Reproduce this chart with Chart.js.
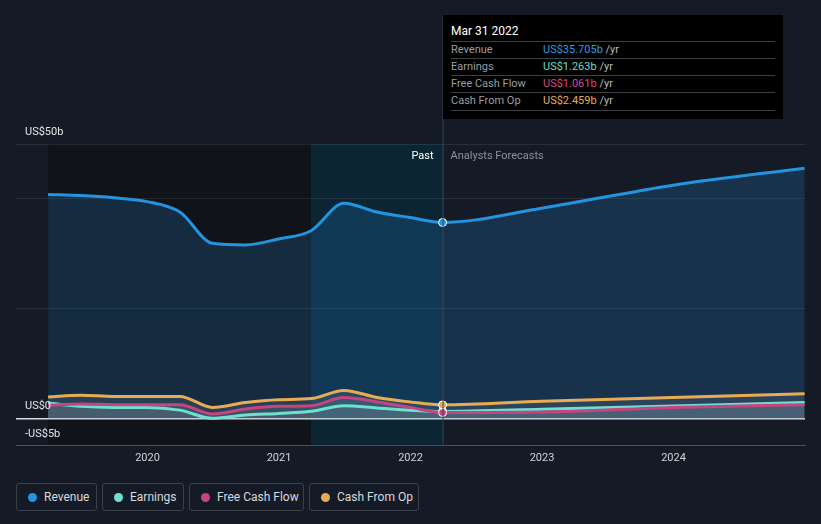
<!DOCTYPE html>
<html lang="en">
<head>
    <meta charset="UTF-8">
    <title>Revenue and Earnings</title>
    <style>
        body { margin: 0; background: #151b26; font-family: Roboto, "Noto Sans", sans-serif; }
        #wrap { position: relative; width: 821px; height: 524px; overflow: hidden; }
        #chartBox { position: absolute; left: 0; top: 0; width: 821px; height: 476px; }
        #tip { position: absolute; left: 443px; top: 15px; width: 340px; height: 104px; background: #000; }
        #tip .title { position: absolute; left: 8px; top: 9px; color: #fff; font-size: 12px; }
        #tip .row { position: absolute; left: 8px; width: 324px; height: 17px; border-top: 1px solid #3c3f44; font-size: 11px; line-height: 16px; color: #9a9da3; }
        #tip .row span.v { position: absolute; left: 92px; }
        #tip .row span.u { color: #b9bcc1; }
        #tip .last { position: absolute; left: 8px; top: 95px; width: 324px; border-top: 1px solid #3c3f44; }
        #legend { position: absolute; left: 16px; top: 483px; display: flex; gap: 5px; }
        #legend div { box-sizing: border-box; height: 28px; border: 1px solid #3b404a; border-radius: 3px; color: #d7d9dd; font-size: 12px; line-height: 26px; padding-left: 27px; position: relative; }
        #legend i { position: absolute; left: 11px; top: 9px; width: 9px; height: 9px; border-radius: 50%; }
    </style>
</head>
<body>
<div id="wrap">
    <div id="chartBox"><canvas id="myChart"></canvas></div>

    <div id="tip">
        <div class="title">Mar 31 2022</div>
        <div class="row" style="top:26px">Revenue<span class="v"><span style="color:#2d9be6">US$35.705b</span> <span class="u">/yr</span></span></div>
        <div class="row" style="top:43px">Earnings<span class="v"><span style="color:#67dcc8">US$1.263b</span> <span class="u">/yr</span></span></div>
        <div class="row" style="top:60px">Free Cash Flow<span class="v"><span style="color:#d14b8b">US$1.061b</span> <span class="u">/yr</span></span></div>
        <div class="row" style="top:77px">Cash From Op<span class="v"><span style="color:#e8ac57">US$2.459b</span> <span class="u">/yr</span></span></div>
        <div class="last"></div>
    </div>

    <div id="legend">
        <div style="width:81px"><i style="background:#2394df"></i>Revenue</div>
        <div style="width:82px"><i style="background:#6de0d0"></i>Earnings</div>
        <div style="width:115px"><i style="background:#c4457f"></i>Free Cash Flow</div>
        <div style="width:110px"><i style="background:#e6a85a"></i>Cash From Op</div>
    </div>
</div>

<script src="https://cdn.jsdelivr.net/npm/chart.js"></script>
<script>
    // quarterly trailing values (US$ b), then analyst forecasts
    let pastDates = ['2019-03-31', '2019-06-30', '2019-09-30', '2019-12-31', '2020-03-31', '2020-06-30', '2020-09-30',
                     '2020-12-31', '2021-03-31', '2021-06-30', '2021-09-30', '2021-12-31', '2022-03-31'];
    let forecastDates = ['2022-12-31', '2023-12-31', '2024-12-31'];

    let revenuePast = [40.8, 40.6, 40.2, 39.5, 37.6, 31.9, 31.6, 32.7, 34.2, 39.2, 37.6, 36.6, 35.705];
    let earningsPast = [2.8, 2.2, 2.0, 2.0, 1.5, 0.0, 0.6, 0.9, 1.3, 2.3, 1.9, 1.5, 1.263];
    let fcfPast = [2.4, 2.6, 2.5, 2.5, 2.5, 0.8, 1.7, 2.2, 2.3, 3.8, 3.0, 2.0, 1.061];
    let cfoPast = [3.9, 4.2, 4.0, 4.0, 4.0, 2.0, 2.9, 3.4, 3.6, 5.1, 3.8, 3.0, 2.459];

    let revenueForecast = [38.3, 42.5, 45.6];
    let earningsForecast = [1.65, 2.25, 2.9];
    let fcfForecast = [1.15, 2.0, 2.5];
    let cfoForecast = [3.1, 3.8, 4.5];

    let yTicks = [-5, 0, 20, 40, 50];
    let xTicks = [2020, 2021, 2022, 2023, 2024];

    function toYear(s) {
        let d = new Date(s + 'T00:00:00Z');
        let start = Date.UTC(d.getUTCFullYear(), 0, 1);
        let end = Date.UTC(d.getUTCFullYear() + 1, 0, 1);
        return d.getUTCFullYear() + (d - start) / (end - start);
    }

    let allDates = pastDates.concat(forecastDates).map(toYear);
    let nowX = toYear(pastDates[pastDates.length - 1]);
    let bandX = toYear(pastDates[pastDates.length - 5]);

    function points(past, fut) {
        let vals = past.concat(fut);
        return vals.map((v, i) => ({ x: allDates[i], y: v }));
    }
    function marker(ctx) {
        return ctx.raw && ctx.raw.x === nowX ? 4 : 0;
    }

    function series(label, color, data, fill, order) {
        return {
            label: label,
            data: data,
            order: order,
            borderColor: color,
            backgroundColor: fill,
            fill: 'origin',
            borderWidth: 3,
            cubicInterpolationMode: 'monotone',
            pointRadius: marker,
            pointHoverRadius: marker,
            pointBackgroundColor: color,
            pointBorderColor: '#fff',
            pointBorderWidth: 1
        };
    }

    const backdrop = {
        id: 'backdrop',
        beforeDraw(chart) {
            const { ctx, chartArea: a, scales: { x } } = chart;
            ctx.save();
            ctx.fillStyle = '#151b26';
            ctx.fillRect(0, 0, chart.width, chart.height);
            let x0 = x.getPixelForValue(allDates[0]);
            let x1 = x.getPixelForValue(bandX);
            let x2 = x.getPixelForValue(nowX);
            ctx.fillStyle = '#101318';
            ctx.fillRect(x0, a.top, x1 - x0, a.bottom - a.top);
            ctx.fillStyle = '#0c2532';
            ctx.fillRect(x1, a.top, x2 - x1, a.bottom - a.top);
            ctx.restore();
        },
        afterDraw(chart) {
            const { ctx, chartArea: a, scales: { x, y } } = chart;
            ctx.save();
            let x2 = x.getPixelForValue(nowX);
            ctx.strokeStyle = '#34495a';
            ctx.lineWidth = 1;
            ctx.beginPath();
            ctx.moveTo(x2 + 0.5, 15);
            ctx.lineTo(x2 + 0.5, a.bottom);
            ctx.stroke();

            ctx.font = '11px Roboto, sans-serif';
            ctx.textBaseline = 'middle';
            ctx.fillStyle = '#ffffff';
            ctx.textAlign = 'right';
            ctx.fillText('Past', x2 - 9, a.top + 12);
            ctx.fillStyle = '#8d9198';
            ctx.textAlign = 'left';
            ctx.fillText('Analysts Forecasts', x2 + 8, a.top + 12);

            ctx.fillStyle = '#e2e4e7';
            ctx.fillText('US$50b', 25, y.getPixelForValue(50) - 12);
            ctx.fillText('US$0', 25, y.getPixelForValue(0) - 12);
            ctx.fillText('-US$5b', 25, y.getPixelForValue(-5) - 12);
            ctx.restore();
        }
    };

    const ctx = document.getElementById('myChart');

    let chart = new Chart(ctx, {
        type: 'line',
        data: {
            datasets: [
                series('Revenue', '#2394df', points(revenuePast, revenueForecast), 'rgba(35,130,210,0.22)', 0),
                series('Earnings', '#6de0d0', points(earningsPast, earningsForecast), 'rgba(150,150,150,0.2)', 3),
                series('Free Cash Flow', '#c4457f', points(fcfPast, fcfForecast), 'rgba(150,150,150,0.2)', 2),
                series('Cash From Op', '#e8ac57', points(cfoPast, cfoForecast), 'rgba(150,150,150,0.2)', 1)
            ]
        },
        options: {
            responsive: true,
            maintainAspectRatio: false,
            animation: false,
            layout: { padding: { left: 16, right: 16, top: 144, bottom: 5 } },
            plugins: {
                legend: { display: false },
                tooltip: { enabled: false },
                filler: { drawTime: 'beforeDatasetsDraw' }
            },
            scales: {
                x: {
                    type: 'linear',
                    min: 2019,
                    max: 2025,
                    afterBuildTicks: (axis) => { axis.ticks = xTicks.map(v => ({ value: v })); },
                    ticks: { color: '#d0d2d6', font: { size: 11, family: 'Roboto' }, padding: 6, callback: v => String(v) },
                    grid: { display: false, drawTicks: false },
                    border: { display: true, color: '#4a4f58' }
                },
                y: {
                    min: -5,
                    max: 50,
                    afterBuildTicks: (axis) => { axis.ticks = yTicks.map(v => ({ value: v })); },
                    ticks: { display: false },
                    grid: {
                        drawTicks: false,
                        color: (c) => c.tick.value === 0 ? '#d9dbde' : (c.tick.value === -5 ? 'rgba(0,0,0,0)' : 'rgba(255,255,255,0.09)'),
                        lineWidth: (c) => c.tick.value === 0 ? 1.5 : 1
                    },
                    border: { display: false }
                }
            }
        },
        plugins: [backdrop]
    });
</script>
</body>
</html>
